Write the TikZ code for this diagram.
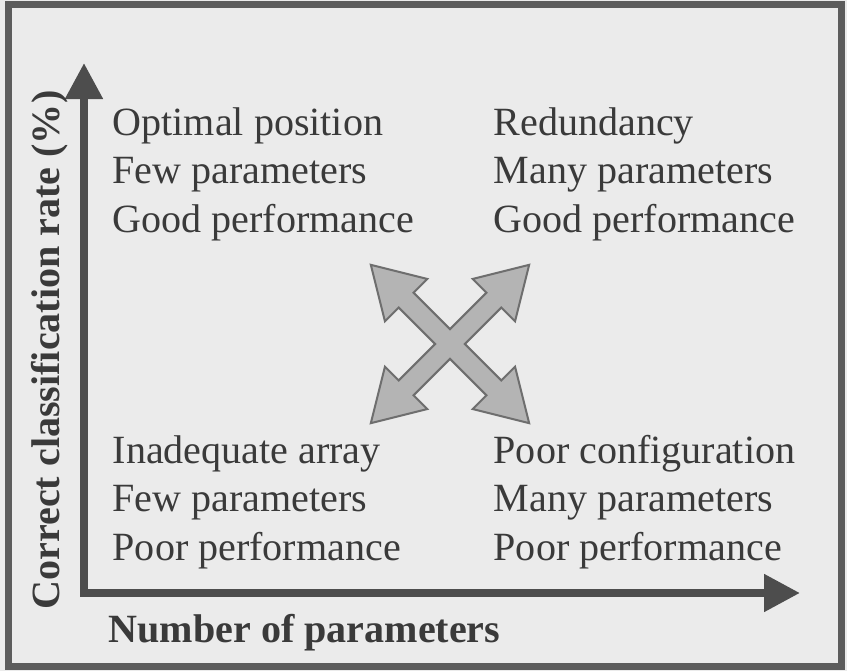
\documentclass[tikz,border=0pt]{standalone}
\usepackage{fontspec}
\setmainfont{Liberation Serif}
\usetikzlibrary{arrows.meta,positioning}
\definecolor{bggray}{HTML}{EBEBEB}
\definecolor{framegray}{HTML}{5C5C5C}
\definecolor{axisgray}{HTML}{4D4D4D}
\definecolor{textgray}{HTML}{3A3A3A}
\definecolor{crossfill}{HTML}{B4B4B4}
\definecolor{crossline}{HTML}{6E6E6E}

\begin{document}
\begin{tikzpicture}[x=0.1mm, y=0.1mm,
    quad/.style={anchor=base west, inner sep=0pt, align=left, text=textgray, font=\fontsize{11.4pt}{13.66pt}\selectfont},
    axlabel/.style={inner sep=0pt, text=textgray, font=\fontsize{11.4pt}{13.66pt}\selectfont\bfseries},
    axis/.style={line width=0.8mm, draw=axisgray, line join=miter, {Triangle[length=3.6mm,width=3.6mm]}-{Triangle[length=3.6mm,width=3.6mm]}},
    cross/.style={fill=crossfill, draw=crossline, line width=0.2mm, line join=miter}
]

% Canvas and frame
\useasboundingbox (0,0) rectangle (847,671);
\fill[bggray] (0,0) rectangle (847,671);
\draw[framegray, line width=0.7mm] (8.5,4.5) rectangle (841.5,667);

% Axes
\coordinate (origin) at (84,78);
\coordinate (ytip) at (84,608);
\coordinate (xtip) at (800,78);
\draw[axis] (ytip) -- (origin) -- (xtip);

\node[axlabel, anchor=base west] (xlabel) at (108,29) {Number of parameters};
\node[axlabel, anchor=base, rotate=90] (ylabel) at (60,321) {Correct classification rate (\%)};

% Quadrant texts (base = last line)
\node[quad] (topleft) at (112,439) {Optimal position\\Few parameters\\Good performance};
\node[quad] (topright) at (493,439) {Redundancy\\Many parameters\\Good performance};
\node[quad] (botleft) at (112,111) {Inadequate array\\Few parameters\\Poor performance};
\node[quad] (botright) at (493,111) {Poor configuration\\Many parameters\\Poor performance};

% Four-way arrow
\begin{scope}[shift={(450,327)}, rotate=45]
\draw[cross] (62,-10.5) -- (62,-30) -- (112,0) -- (62,30) -- (62,10.5)
  -- (10.5,10.5) -- (10.5,62) -- (30,62) -- (0,112) -- (-30,62) -- (-10.5,62)
  -- (-10.5,10.5) -- (-62,10.5) -- (-62,30) -- (-112,0) -- (-62,-30) -- (-62,-10.5)
  -- (-10.5,-10.5) -- (-10.5,-62) -- (-30,-62) -- (0,-112) -- (30,-62) -- (10.5,-62)
  -- (10.5,-10.5) -- cycle;
\end{scope}

\end{tikzpicture}
\end{document}
